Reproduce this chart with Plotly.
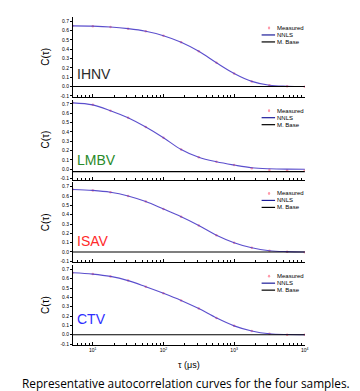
import plotly.graph_objects as go
from plotly.subplots import make_subplots

# ---- data ----
tau_us = [5.2, 10, 17.8, 31.6, 56.2, 100, 178, 316, 562, 1000, 1778, 3162, 5623, 10000]

samples = ["IHNV", "LMBV", "ISAV", "CTV"]

ihnv_nnls = [0.650, 0.647, 0.638, 0.620, 0.592, 0.545, 0.475, 0.378, 0.255, 0.140, 0.055, 0.013, 0.003, 0.000]
lmbv_nnls = [0.712, 0.690, 0.628, 0.552, 0.452, 0.338, 0.212, 0.128, 0.080, 0.045, 0.016, 0.005, 0.001, 0.000]
isav_nnls = [0.670, 0.660, 0.640, 0.600, 0.540, 0.460, 0.378, 0.285, 0.180, 0.100, 0.045, 0.014, 0.004, 0.000]
ctv_nnls = [0.665, 0.650, 0.625, 0.580, 0.515, 0.445, 0.368, 0.280, 0.180, 0.095, 0.040, 0.010, 0.002, 0.000]

ihnv_meas = [0.650, 0.647, 0.638, 0.620, 0.592, 0.545, 0.475, 0.378, 0.255, 0.140, 0.055, 0.013, 0.003, -0.002]
lmbv_meas = [0.712, 0.690, 0.628, 0.552, 0.452, 0.338, 0.212, 0.128, 0.080, 0.045, 0.012, -0.008, -0.012, -0.014]
isav_meas = [0.670, 0.660, 0.640, 0.600, 0.540, 0.460, 0.378, 0.285, 0.180, 0.100, 0.045, 0.014, 0.002, -0.002]
ctv_meas = [0.665, 0.650, 0.625, 0.580, 0.515, 0.445, 0.368, 0.280, 0.180, 0.095, 0.040, 0.010, 0.001, -0.001]

baselines = [0.0, -0.025, 0.0, 0.0]

nnls_sets = [ihnv_nnls, lmbv_nnls, isav_nnls, ctv_nnls]
meas_sets = [ihnv_meas, lmbv_meas, isav_meas, ctv_meas]

label_colors = ["#2b2b2b", "#2a8a2a", "#ff2a2a", "#2f2fff"]
label_y = [0.29, 0.25, 0.27, 0.33]

y_ticks = [-0.1, 0.0, 0.1, 0.2, 0.3, 0.4, 0.5, 0.6, 0.7]
y_ticktext = ["-0.1", "0.0", "0.1", "0.2", "0.3", "0.4", "0.5", "0.6", "0.7"]
x_ticks = [10, 100, 1000, 10000]
x_ticktext = ["10<sup>1</sup>", "10<sup>2</sup>", "10<sup>3</sup>", "10<sup>4</sup>"]
legend_names = ["Measured", "NNLS", "M. Base"]

# ---- figure ----
fig = make_subplots(rows=4, cols=1, shared_xaxes=True, vertical_spacing=0.009)

MEAS_COLOR = "#ff9aaa"
NNLS_COLOR = "#4a3cc8"

for i in range(4):
    r = i + 1
    fig.add_trace(go.Scatter(x=tau_us, y=meas_sets[i], mode="markers",
                             marker=dict(size=2.5, color=MEAS_COLOR),
                             showlegend=False), row=r, col=1)
    fig.add_trace(go.Scatter(x=tau_us, y=nnls_sets[i], mode="lines",
                             line=dict(color=NNLS_COLOR, width=1.1, shape="spline", smoothing=1.0),
                             opacity=0.9, showlegend=False), row=r, col=1)
    fig.add_trace(go.Scatter(x=[tau_us[0], tau_us[-1]], y=[baselines[i], baselines[i]], mode="lines",
                             line=dict(color="black", width=1.2),
                             showlegend=False), row=r, col=1)

    fig.update_yaxes(row=r, col=1, range=[-0.11, 0.745], tickvals=y_ticks, ticktext=y_ticktext,
                     showline=True, linecolor="black", linewidth=1, ticks="outside",
                     ticklen=2, tickwidth=1, tickcolor="black", showgrid=False, zeroline=False,
                     tickfont=dict(size=5, family="Liberation Sans", color="black"),
                     title=dict(text="C(τ)", font=dict(size=10, family="Liberation Sans", color="black"),
                                standoff=8))
    fig.update_xaxes(row=r, col=1, type="log", range=[0.72, 4.003], tickvals=x_ticks,
                     ticktext=x_ticktext, showline=True, linecolor="black", linewidth=1,
                     ticks="inside", ticklen=3, tickcolor="black", showgrid=False, zeroline=False,
                     minor=dict(ticks="inside", ticklen=2, tickcolor="black", dtick="D1", showgrid=False),
                     tickfont=dict(size=5, family="Liberation Sans", color="black"))

    xd = "x domain" if i == 0 else f"x{r} domain"
    yd = "y domain" if i == 0 else f"y{r} domain"

    # sample label
    fig.add_annotation(xref=xd, yref=yd, x=0.008, y=label_y[i], text=samples[i], showarrow=False,
                       xanchor="left", yanchor="middle",
                       font=dict(size=14, family="Liberation Sans", color=label_colors[i]))

    # legend (drawn per panel)
    rows_y = [1 - 11 / 80, 1 - 18 / 80, 1 - 25 / 80]
    for k, name in enumerate(legend_names):
        fig.add_annotation(xref=xd, yref=yd, x=0.872, y=rows_y[k], text=name, showarrow=False,
                           xanchor="left", yanchor="middle",
                           font=dict(size=6, family="Liberation Sans", color="black"))
    fig.add_shape(type="circle", xref=xd, yref=yd, x0=0.840, x1=0.850,
                  y0=rows_y[0] - 0.018, y1=rows_y[0] + 0.018,
                  fillcolor=MEAS_COLOR, line=dict(width=0))
    fig.add_shape(type="line", xref=xd, yref=yd, x0=0.813, x1=0.871, y0=rows_y[1], y1=rows_y[1],
                  line=dict(color="#1c1c9a", width=1.2))
    fig.add_shape(type="line", xref=xd, yref=yd, x0=0.813, x1=0.871, y0=rows_y[2], y1=rows_y[2],
                  line=dict(color="black", width=1.2))

fig.add_annotation(xref="paper", yref="paper", x=0.5, y=-0.062, text="τ (μs)", showarrow=False,
                   xanchor="center", yanchor="middle",
                   font=dict(size=9, family="Liberation Sans", color="black"))
fig.add_annotation(xref="paper", yref="paper", x=0.485, y=-0.117,
                   text="Representative autocorrelation curves for the four samples.",
                   showarrow=False, xanchor="center", yanchor="middle",
                   font=dict(size=11.8, family="Open Sans", color="black"))

fig.update_layout(width=360, height=391, margin=dict(l=65, r=63, t=9, b=54),
                  paper_bgcolor="white", plot_bgcolor="white", showlegend=False)

fig.write_html("out.html")
